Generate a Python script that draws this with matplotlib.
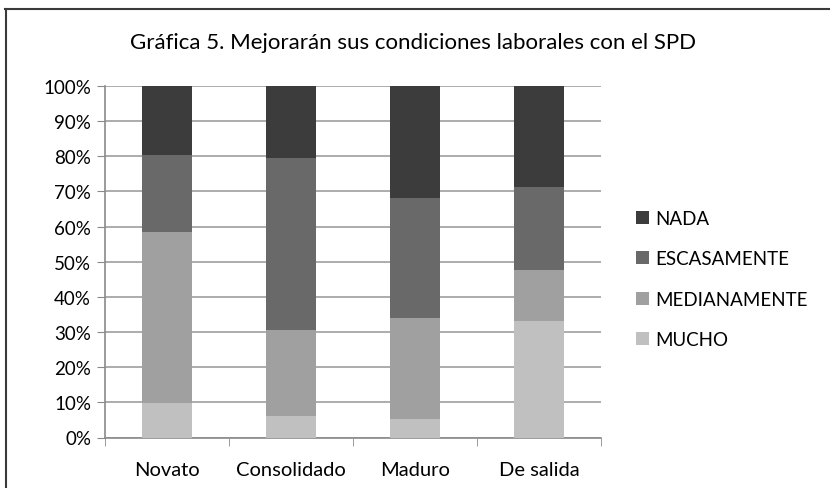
import matplotlib
matplotlib.use("Agg")
import matplotlib.pyplot as plt
from matplotlib.lines import Line2D
from matplotlib.ticker import PercentFormatter

plt.rcParams["font.family"] = ["Lato", "DejaVu Sans"]

categories = ["Novato", "Consolidado", "Maduro", "De salida"]
mucho = [9.8, 6.1, 5.4, 33.2]
medianamente = [48.7, 24.4, 28.6, 14.4]
escasamente = [21.9, 49.1, 34.2, 23.7]
nada = [19.6, 20.4, 31.8, 28.7]

series = [
    ("MUCHO", mucho, "#c0c0c0"),
    ("MEDIANAMENTE", medianamente, "#a0a0a0"),
    ("ESCASAMENTE", escasamente, "#696969"),
    ("NADA", nada, "#3c3c3c"),
]

W, H = 830, 489
fig = plt.figure(figsize=(W / 100, H / 100), dpi=100)

# chart frame (top and left edge visible in the original crop)
fig.add_artist(Line2D([5 / W, 1], [1 - 10 / H] * 2, color="#3a3a3a", lw=1.5))
fig.add_artist(Line2D([6 / W] * 2, [0, 1 - 10 / H], color="#3a3a3a", lw=1.5))

ax = fig.add_axes([105 / W, (H - 438.5) / H, (601 - 105) / W, (438.5 - 87) / H])

x = range(len(categories))
bottom = [0] * len(categories)
handles = []
for name, vals, color in series:
    b = ax.bar(x, vals, 0.4, bottom=bottom, color=color, label=name, zorder=3)
    handles.append(b)
    bottom = [a + v for a, v in zip(bottom, vals)]

ax.set_xlim(-0.5, len(categories) - 0.5)
ax.set_ylim(0, 100)
ax.set_yticks(range(0, 101, 10))
ax.yaxis.set_major_formatter(PercentFormatter(decimals=0))
ax.yaxis.grid(True, color="#a6a6a6", lw=1.3, zorder=0)
ax.set_xticks(x)
ax.set_xticklabels(categories, fontsize=14.5)
ax.set_xticks([i - 0.5 for i in range(len(categories) + 1)], minor=True)
ax.tick_params(axis="x", which="major", length=0, pad=17)
ax.tick_params(axis="x", which="minor", length=6, color="#8a8a8a")
ax.tick_params(axis="y", length=6, color="#8a8a8a", labelsize=13.5, pad=4)
for s in ["top", "right"]:
    ax.spines[s].set_visible(False)
for s in ["left", "bottom"]:
    ax.spines[s].set_color("#8a8a8a")
    ax.spines[s].set_linewidth(1.2)

fig.text(413 / W, 1 - 43 / H, "Gráfica 5. Mejorarán sus condiciones laborales con el SPD",
         ha="center", va="center", fontsize=16)

fig.legend(handles[::-1], [s[0] for s in series][::-1], loc="upper left",
           bbox_to_anchor=(619 / W, 1 - 194 / H), frameon=False, fontsize=13.5,
           handlelength=0.7, handleheight=0.7, handletextpad=0.35, labelspacing=1.25)

fig.savefig("out.png", dpi=100)
